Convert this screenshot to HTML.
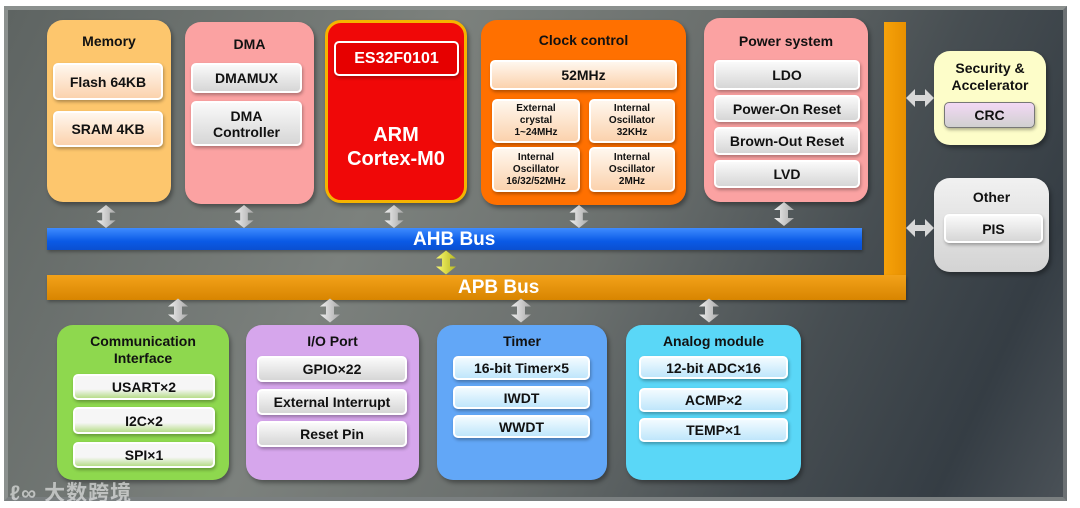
<!DOCTYPE html>
<html><head><meta charset="utf-8"><style>
*{margin:0;padding:0;box-sizing:border-box}
body{width:1080px;height:508px;background:#fff;position:relative;overflow:hidden;font-family:"Liberation Sans","DejaVu Sans",sans-serif;font-weight:bold}
#panel{position:absolute;left:4px;top:6px;width:1063px;height:495px;background:linear-gradient(115deg,#5e6462 0%,#7c817d 35%,#6b706e 55%,#474e52 75%,#353d44 90%,#4a5157 100%);border:4px solid #8b908e;border-right-color:#6c7174;border-bottom-color:#7a7f80}
.b{position:absolute;border-radius:16px;box-shadow:2px 3px 4px rgba(0,0,0,.35)}
.t{position:absolute;left:0;right:0;text-align:center;color:#111;font-size:14px;line-height:17px}
.i{position:absolute;border-radius:5px;text-align:center;color:#111;font-size:14px;display:flex;align-items:center;justify-content:center;line-height:16px;border:2px solid #fff;box-shadow:1px 2px 3px rgba(0,0,0,.3)}
.cr{background:linear-gradient(#fff7ee,#fbd2ad)}
.gy{background:linear-gradient(#fafafa,#d6d6d6)}
.gr{background:linear-gradient(#f6f6f6 60%,#b7dd8a)}
.bl{background:linear-gradient(#f2fbff,#bfe6fb)}
.sm{font-size:10px;line-height:12px}
.ar{position:absolute}
</style></head><body>
<div id="panel"></div>

<div style="position:absolute;left:884px;top:22px;width:22px;height:278px;background:linear-gradient(90deg,#f7a20a,#e89000)"></div>
<div style="position:absolute;left:47px;top:275px;width:859px;height:25px;background:linear-gradient(#f3a21a,#d88500);box-shadow:1px 2px 3px rgba(0,0,0,.3)"></div>
<div style="position:absolute;left:458px;top:276px;color:#fff;font-size:19px;line-height:24px">APB Bus</div>
<div style="position:absolute;left:47px;top:228px;width:815px;height:22px;background:linear-gradient(#3f8cff,#0a5ae6 60%,#0a4fd0);box-shadow:1px 2px 3px rgba(0,0,0,.3)"></div>
<div style="position:absolute;left:413px;top:228px;color:#fff;font-size:19px;line-height:23px">AHB Bus</div>

<div class="b" style="left:47px;top:20px;width:124px;height:182px;background:#fdc66d">
<div class="t" style="top:13px">Memory</div>
<div class="i cr" style="left:6px;top:43px;width:110px;height:37px">Flash 64KB</div>
<div class="i cr" style="left:6px;top:91px;width:110px;height:36px">SRAM 4KB</div>
</div>
<div class="b" style="left:185px;top:22px;width:129px;height:182px;background:#fba2a2">
<div class="t" style="top:14px">DMA</div>
<div class="i gy" style="left:6px;top:41px;width:111px;height:30px">DMAMUX</div>
<div class="i gy" style="left:6px;top:79px;width:111px;height:45px">DMA<br>Controller</div>
</div>
<div class="b" style="left:325px;top:20px;width:142px;height:183px;background:#f00808;border:3px solid #f5b400">
<div class="i" style="left:6px;top:18px;width:125px;height:35px;background:#e60000;color:#fff;font-size:16px">ES32F0101</div>
<div class="t" style="top:100px;color:#fff;font-size:20px;line-height:24px">ARM<br>Cortex-M0</div>
</div>
<div class="b" style="left:481px;top:20px;width:205px;height:185px;background:#ff7000">
<div class="t" style="top:12px">Clock control</div>
<div class="i cr" style="left:9px;top:40px;width:187px;height:30px">52MHz</div>
<div class="i cr sm" style="left:11px;top:79px;width:88px;height:44px">External<br>crystal<br>1~24MHz</div>
<div class="i cr sm" style="left:108px;top:79px;width:86px;height:44px">Internal<br>Oscillator<br>32KHz</div>
<div class="i cr sm" style="left:11px;top:127px;width:88px;height:45px">Internal<br>Oscillator<br>16/32/52MHz</div>
<div class="i cr sm" style="left:108px;top:127px;width:86px;height:45px">Internal<br>Oscillator<br>2MHz</div>
</div>
<div class="b" style="left:704px;top:18px;width:164px;height:184px;background:#fba2a2">
<div class="t" style="top:15px">Power system</div>
<div class="i gy" style="left:10px;top:42px;width:146px;height:30px">LDO</div>
<div class="i gy" style="left:10px;top:77px;width:146px;height:27px">Power-On Reset</div>
<div class="i gy" style="left:10px;top:109px;width:146px;height:28px">Brown-Out Reset</div>
<div class="i gy" style="left:10px;top:142px;width:146px;height:28px">LVD</div>
</div>
<div class="b" style="left:934px;top:51px;width:112px;height:94px;background:#fdfdc9">
<div class="t" style="top:9px">Security &amp;<br>Accelerator</div>
<div class="i" style="left:10px;top:51px;width:91px;height:26px;background:linear-gradient(#f3d8f5,#d0d0d0);border:1px solid #777">CRC</div>
</div>
<div class="b" style="left:934px;top:178px;width:115px;height:94px;background:linear-gradient(#f1f1f1,#d3d3d3)">
<div class="t" style="top:11px">Other</div>
<div class="i gy" style="left:10px;top:36px;width:99px;height:29px">PIS</div>
</div>

<div class="b" style="left:57px;top:325px;width:172px;height:155px;background:#8ed84e">
<div class="t" style="top:8px">Communication<br>Interface</div>
<div class="i gr" style="left:16px;top:49px;width:142px;height:26px">USART×2</div>
<div class="i gr" style="left:16px;top:82px;width:142px;height:27px">I2C×2</div>
<div class="i gr" style="left:16px;top:117px;width:142px;height:26px">SPI×1</div>
</div>
<div class="b" style="left:246px;top:325px;width:173px;height:155px;background:#d6a6ec">
<div class="t" style="top:8px">I/O Port</div>
<div class="i gy" style="left:11px;top:31px;width:150px;height:26px">GPIO×22</div>
<div class="i gy" style="left:11px;top:64px;width:150px;height:26px">External Interrupt</div>
<div class="i gy" style="left:11px;top:96px;width:150px;height:26px">Reset Pin</div>
</div>
<div class="b" style="left:437px;top:325px;width:170px;height:155px;background:#62a7f7">
<div class="t" style="top:8px">Timer</div>
<div class="i bl" style="left:16px;top:31px;width:137px;height:24px">16-bit Timer×5</div>
<div class="i bl" style="left:16px;top:61px;width:137px;height:23px">IWDT</div>
<div class="i bl" style="left:16px;top:90px;width:137px;height:23px">WWDT</div>
</div>
<div class="b" style="left:626px;top:325px;width:175px;height:155px;background:#5ad7f7">
<div class="t" style="top:8px">Analog module</div>
<div class="i bl" style="left:13px;top:31px;width:149px;height:23px">12-bit ADC×16</div>
<div class="i bl" style="left:13px;top:63px;width:149px;height:24px">ACMP×2</div>
<div class="i bl" style="left:13px;top:93px;width:149px;height:24px">TEMP×1</div>
</div>

<svg width="1080" height="508" style="position:absolute;left:0;top:0">
<defs>
<linearGradient id="ga" x1="0" x2="1"><stop offset="0" stop-color="#f0f0f0"/><stop offset="1" stop-color="#a9a9a9"/></linearGradient>
<linearGradient id="gy" x1="0" x2="1"><stop offset="0" stop-color="#fbfb70"/><stop offset="1" stop-color="#b8b820"/></linearGradient>
<symbol id="v" viewBox="0 0 20 24"><path d="M10 0L20 8H14V16H20L10 24L0 16H6V8H0Z"/></symbol>
</defs>
<g fill="url(#ga)">
<use href="#v" x="96" y="205" width="20" height="23"/>
<use href="#v" x="234" y="205" width="20" height="23"/>
<use href="#v" x="384" y="205" width="20" height="23"/>
<use href="#v" x="569" y="205" width="20" height="23"/>
<use href="#v" x="774" y="201" width="20" height="26"/>
<use href="#v" x="168" y="297" width="20" height="27"/>
<use href="#v" x="320" y="297" width="20" height="27"/>
<use href="#v" x="511" y="297" width="20" height="27"/>
<use href="#v" x="699" y="297" width="20" height="27"/>
</g>
<use href="#v" x="436" y="250" width="20" height="25" fill="url(#gy)"/>
<g fill="#d8d8d8">
<path d="M906 98L915 89V95H925V89L934 98L925 107V101H915V107Z"/>
<path d="M906 228L915 219V225H925V219L934 228L925 237V231H915V237Z"/>
</g>
</svg>
<div style="position:absolute;left:10px;top:477px;color:rgba(255,255,255,.55);font-size:21px;font-weight:bold;font-family:'Liberation Sans','Noto Sans CJK SC',sans-serif;letter-spacing:1px">ℓ∞ 大数跨境</div>
</body></html>
